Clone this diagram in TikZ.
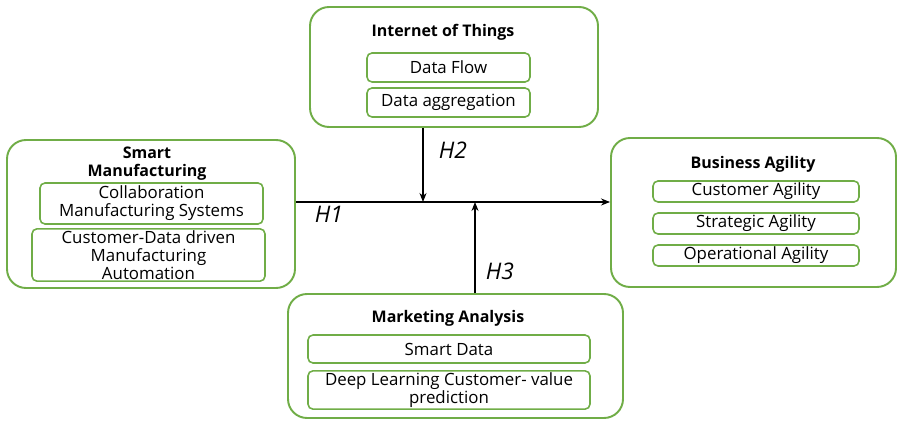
\documentclass[tikz,border=0pt]{standalone}
\usepackage{fontspec}
\setmainfont{Open Sans}
\usetikzlibrary{arrows.meta, positioning}
\definecolor{leaf}{HTML}{70AD47}

\begin{document}
\begin{tikzpicture}[
          grp/.style={draw=leaf, line width=1.1pt, rounded corners=0.38cm, inner sep=0pt},
          itm/.style={draw=leaf, line width=0.9pt, rounded corners=0.1cm, align=center,
                      inner sep=1pt, font=\fontsize{9.6}{10.2}\selectfont},
          ttl/.style={font=\fontsize{9.1}{10.6}\selectfont\bfseries, align=center},
          hyp/.style={font=\fontsize{13}{15}\selectfont\itshape},
          ar/.style={-{Stealth[length=1.8mm, width=1.4mm]}, line width=0.7pt}
        ]
        \useasboundingbox (0,0) rectangle (17.96,8.4);

        % Internet of Things
        \node[grp, minimum width=5.76cm, minimum height=2.4cm] (iot) at (9.08,7.06) {};
        \node[ttl] (iotT) at (8.86,7.76) {Internet of Things};
        \node[itm, minimum width=3.26cm, minimum height=0.58cm] (flow) at (8.97,7.05) {Data Flow};
        \node[itm, minimum width=3.26cm, minimum height=0.58cm] (aggr) at (8.97,6.35) {Data aggregation};

        % Smart Manufacturing
        \node[grp, minimum width=5.76cm, minimum height=2.96cm] (sm) at (3.02,4.12) {};
        \node[ttl] (smT) at (2.94,5.13) {Smart\\Manufacturing};
        \node[itm, minimum width=4.46cm, minimum height=0.82cm] (collab) at (3.03,4.33) {Collaboration\\Manufacturing Systems};
        \node[itm, minimum width=4.66cm, minimum height=0.92cm] (auto) at (2.97,3.30) {Customer-Data driven\\Manufacturing\\Automation};

        % Business Agility
        \node[grp, minimum width=5.7cm, minimum height=2.98cm] (ba) at (15.07,4.15) {};
        \node[ttl] (baT) at (15.06,5.12) {Business Agility};
        \node[itm, minimum width=4.12cm, minimum height=0.42cm] (cust) at (15.12,4.57) {Customer Agility};
        \node[itm, minimum width=4.12cm, minimum height=0.42cm] (strat) at (15.12,3.93) {Strategic Agility};
        \node[itm, minimum width=4.12cm, minimum height=0.42cm] (oper) at (15.12,3.29) {Operational Agility};

        % Marketing Analysis
        \node[grp, minimum width=6.7cm, minimum height=2.48cm] (ma) at (9.11,1.28) {};
        \node[ttl] (maT) at (8.96,2.04) {Marketing Analysis};
        \node[itm, minimum width=5.64cm, minimum height=0.56cm] (sdata) at (8.98,1.42) {Smart Data};
        \node[itm, minimum width=5.64cm, minimum height=0.72cm] (deep) at (8.98,0.60) {Deep Learning Customer- value\\prediction};

        % hypotheses
        \coordinate (j2) at (8.46,4.36);
        \coordinate (j3) at (9.50,4.36);
        \draw[ar] (sm.east |- j2) -- (ba.west |- j2);
        \draw[ar] (iot.south -| j2) -- (j2);
        \draw[ar] (ma.north -| j3) -- (j3);
        \node[hyp] (h1) at (6.58,4.12) {H1};
        \node[hyp] (h2) at (9.06,5.40) {H2};
        \node[hyp] (h3) at (10.0,2.98) {H3};
      \end{tikzpicture}
\end{document}
